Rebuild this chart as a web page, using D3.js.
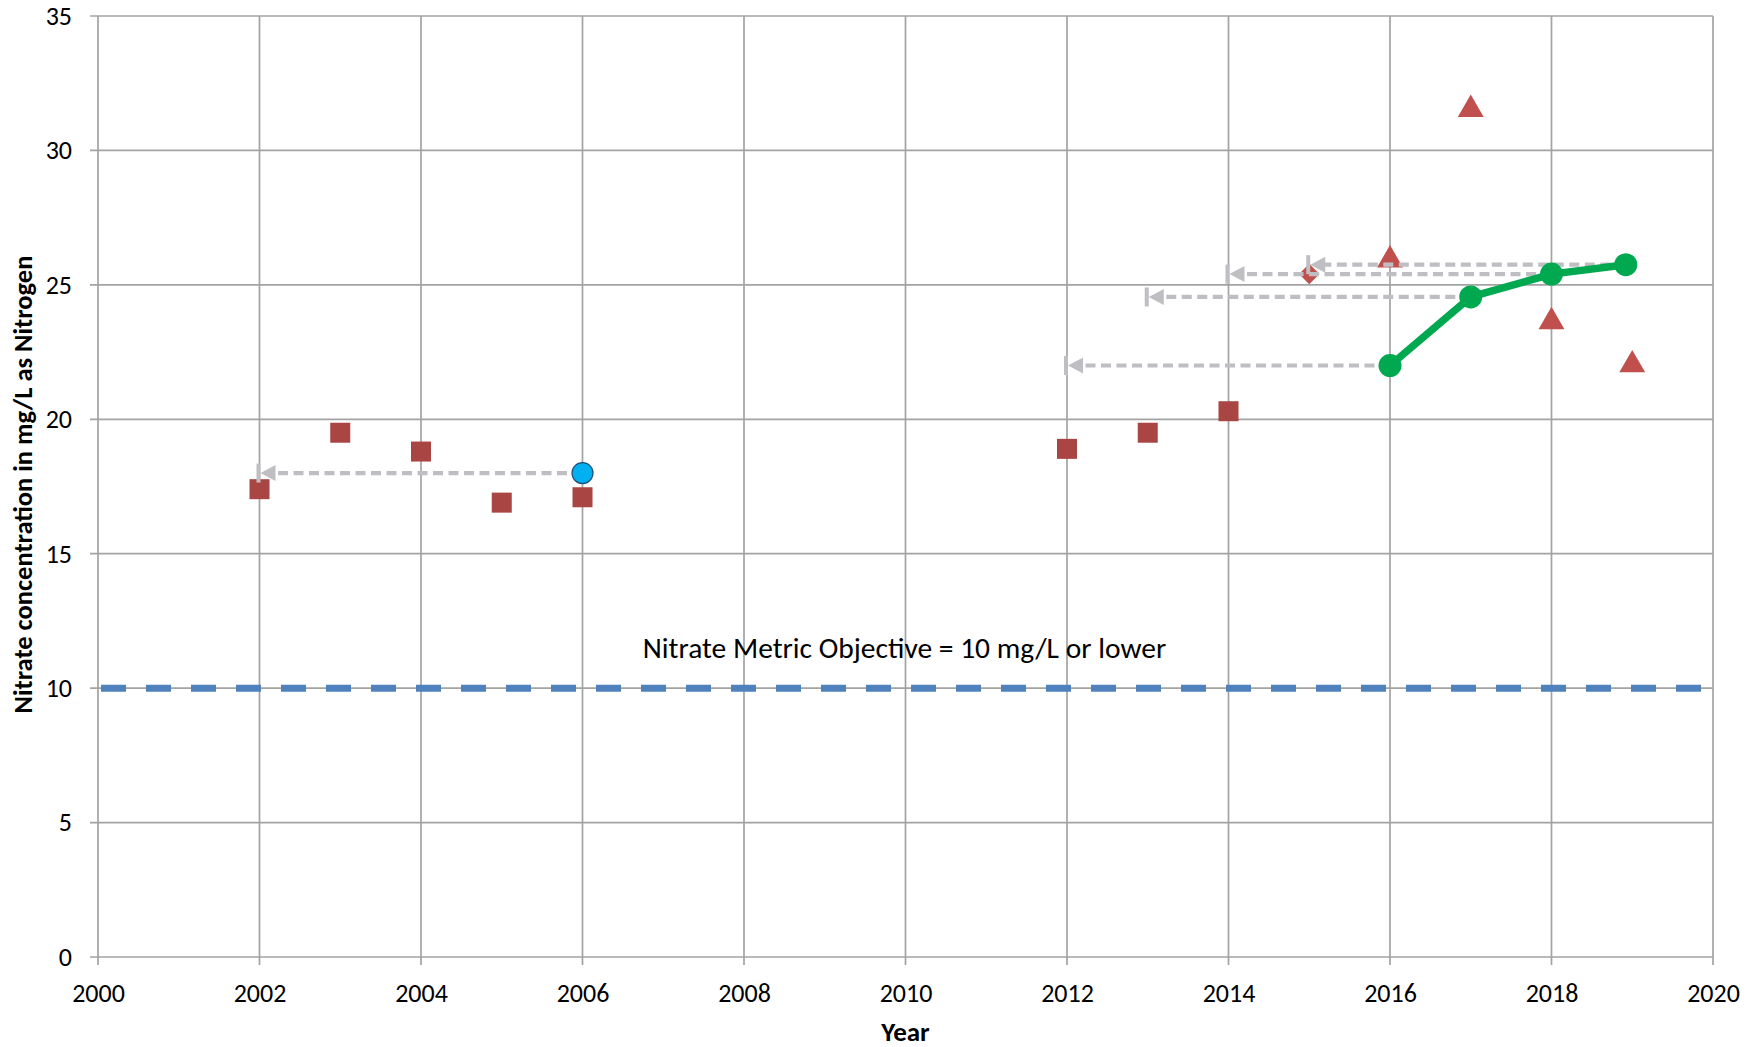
<!DOCTYPE html>
<html><head><meta charset="utf-8">
<script src="https://cdn.jsdelivr.net/npm/d3@7"></script>
<style>
html,body{margin:0;padding:0;background:#fff;}
svg{display:block;font-family:Carlito, Lato, "Open Sans", sans-serif;}
</style></head>
<body>
<svg id="chart" width="1762" height="1047"></svg>
<script>
// ---- data ----
const xTicks = [2000,2002,2004,2006,2008,2010,2012,2014,2016,2018,2020];
const yTicks = [0,5,10,15,20,25,30,35];
const squareYears  = [2002,2003,2004,2005,2006,2012,2013,2014];
const squareValues = [17.4,19.5,18.8,16.9,17.1,18.9,19.5,20.3];
const diamondYears  = [2015];
const diamondValues = [25.4];
const triangleYears  = [2016,2017,2018,2019];
const triangleValues = [26.0,31.6,23.7,22.1];
const blueYears  = [2006];
const blueValues = [18.0];
const greenYears  = [2016,2017,2018,2018.92];
const greenValues = [22.0,24.55,25.4,25.75];
const arrowFrom   = [2006,2016,2017,2018,2018.92];
const arrowTo     = [2002,2012,2013,2014,2015];
const arrowValues = [18.0,22.0,24.55,25.4,25.75];
const objectiveValue = 10;
const objectiveLabel = "Nitrate Metric Objective = 10 mg/L or lower";
const xTitle = "Year";
const yTitle = "Nitrate concentration in mg/L as Nitrogen";

// ---- layout ----
const svg = d3.select("#chart");
const L = 98, R = 1713, T = 16, B = 957;
const x = d3.scaleLinear().domain([2000,2020]).range([L,R]);
const y = d3.scaleLinear().domain([0,35]).range([B,T]);
const gridColor = "#a3a3a3";
const FONT = "Carlito, Lato, sans-serif";

// grid
svg.append("g").selectAll("line").data(yTicks).join("line")
  .attr("x1", L-8).attr("x2", R).attr("y1", d=>y(d)).attr("y2", d=>y(d))
  .attr("stroke", gridColor).attr("stroke-width", 1.7);
svg.append("g").selectAll("line").data(xTicks).join("line")
  .attr("y1", T).attr("y2", B+8).attr("x1", d=>x(d)).attr("x2", d=>x(d))
  .attr("stroke", gridColor).attr("stroke-width", 1.7);

// axes labels via d3 axes (domain/ticks hidden)
const yAxis = svg.append("g").attr("transform",`translate(${L},0)`)
  .call(d3.axisLeft(y).tickValues(yTicks).tickSize(0).tickPadding(26).tickFormat(d3.format("d")));
yAxis.select(".domain").remove();
yAxis.selectAll("text").attr("font-size",26).attr("fill","#000").attr("font-family",FONT);
const xAxis = svg.append("g").attr("transform",`translate(0,${B})`)
  .call(d3.axisBottom(x).tickValues(xTicks).tickSize(0).tickPadding(27).tickFormat(d3.format("d")));
xAxis.select(".domain").remove();
xAxis.selectAll("text").attr("font-size",26).attr("fill","#000").attr("font-family",FONT);

// titles
svg.append("text").attr("x", (L+R)/2).attr("y", 1041).attr("text-anchor","middle")
  .attr("font-size",27).attr("font-weight","bold").attr("font-family",FONT).text(xTitle);
svg.append("text").attr("transform",`translate(32,${(T+B)/2 - 2}) rotate(-90)`).attr("text-anchor","middle")
  .attr("font-size",26.5).attr("font-weight","bold").attr("font-family",FONT).text(yTitle);

// objective line
svg.append("line").attr("x1", x(2000)+3).attr("x2", x(2020)).attr("y1", y(objectiveValue)).attr("y2", y(objectiveValue))
  .attr("stroke","#4f81bd").attr("stroke-width",7).attr("stroke-dasharray","25,20");
svg.append("text").attr("x", x(2010)-1).attr("y", y(11.5)).attr("text-anchor","middle")
  .attr("dominant-baseline","central").attr("font-size",29.5).attr("fill","#000").attr("font-family",FONT).text(objectiveLabel);

// red squares
const sq = 20;
svg.append("g").selectAll("rect").data(squareYears.map((d,i)=>[d,squareValues[i]])).join("rect")
  .attr("x", d=>x(d[0])-sq/2).attr("y", d=>y(d[1])-sq/2).attr("width",sq).attr("height",sq)
  .attr("fill","#a94542");
// triangles
const tri = d3.symbol().type(d3.symbolTriangle).size(290);
svg.append("g").selectAll("path").data(triangleYears.map((d,i)=>[d,triangleValues[i]])).join("path")
  .attr("d", tri).attr("transform", d=>`translate(${x(d[0])},${y(d[1])+2})`)
  .attr("fill","#c0504d");
// diamond
svg.append("g").selectAll("path").data(diamondYears.map((d,i)=>[d,diamondValues[i]])).join("path")
  .attr("d", d3.symbol().type(d3.symbolSquare).size(210)).attr("transform", d=>`translate(${x(d[0])},${y(d[1])}) rotate(45)`)
  .attr("fill","#c0504d");

// arrows
const arrowColor = "#bfbfc3";
const ag = svg.append("g");
arrowFrom.forEach((f,i)=>{
  const yy = y(arrowValues[i]);
  const xt = x(arrowTo[i]);
  ag.append("line").attr("x1", x(f)).attr("x2", xt+15).attr("y1", yy).attr("y2", yy)
    .attr("stroke", arrowColor).attr("stroke-width",4.2).attr("stroke-dasharray","10,5.5");
  ag.append("path").attr("d", `M${xt+1},${yy} L${xt+16},${yy-8} L${xt+16},${yy+8} Z`).attr("fill", arrowColor);
  ag.append("rect").attr("x", xt-3).attr("y", yy-9.5).attr("width",4).attr("height",19).attr("fill", arrowColor);
});

// green line
const gpts = greenYears.map((d,i)=>[d,greenValues[i]]);
svg.append("path").datum(gpts).attr("d", d3.line().x(d=>x(d[0])).y(d=>y(d[1])))
  .attr("fill","none").attr("stroke","#00a84f").attr("stroke-width",7.5).attr("stroke-linejoin","round");
svg.append("g").selectAll("circle").data(gpts).join("circle")
  .attr("cx", d=>x(d[0])).attr("cy", d=>y(d[1])).attr("r", 11.5).attr("fill","#00a84f");

// blue circle
svg.append("g").selectAll("circle").data(blueYears.map((d,i)=>[d,blueValues[i]])).join("circle")
  .attr("cx", d=>x(d[0])).attr("cy", d=>y(d[1])).attr("r", 10.5)
  .attr("fill","#00b0f0").attr("stroke","#1f4e79").attr("stroke-width",1.2);
</script>
</body></html>
